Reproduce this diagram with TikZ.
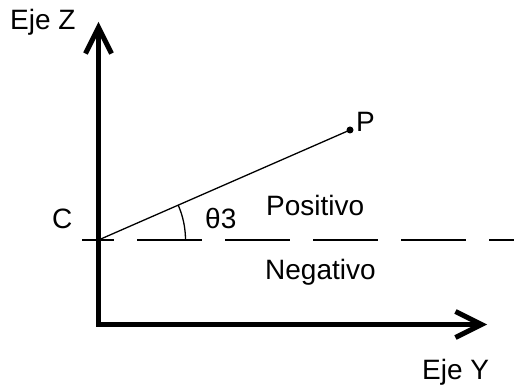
\documentclass[tikz,border=0pt]{standalone}
\usepackage{fontspec}
\setmainfont{Liberation Sans}
\usetikzlibrary{arrows.meta}
\begin{document}
\begin{tikzpicture}[x=1pt,y=-1pt,
  lbl/.style={inner sep=0pt,anchor=base west,font=\fontsize{28}{32}\selectfont},
  axis/.style={line width=5pt,line join=miter,-{Straight Barb[length=26pt,width=26pt,line width=5pt]}},
  thin/.style={line width=1.3pt}]
\useasboundingbox[fill=white] (0,0) rectangle (514,387);
\coordinate (C) at (98.5,240);
\coordinate (corner) at (98.5,324.5);
\coordinate (ztip) at (98.5,22);
\coordinate (ytip) at (487,324.5);
\coordinate (P) at (350,130);
\coordinate (dstart) at (82,240);
\coordinate (dend) at (514,240);
\draw[axis] (corner) -- (ztip);
\draw[axis] (98.5-2.5,324.5) -- (ytip);
\draw[thin,dash pattern=on 65pt off 23pt,dash phase=33pt] (dstart) -- (dend);
\draw[thin] (C) -- (P);
\fill (P) circle (3.5pt);
\draw[thin] ([xshift=87pt]C) arc[start angle=0,end angle=23.6,radius=87pt];
\node[lbl] (lz) at (10,30) {Eje Z};
\node[lbl] (ly) at (422,379) {Eje Y};
\node[lbl] (lc) at (52,229) {C};
\node[lbl] (lt) at (205,229) {θ3};
\node[lbl] (lp) at (356,132) {P};
\node[lbl] (lpos) at (266,216) {Positivo};
\node[lbl] (lneg) at (265,280) {Negativo};
\end{tikzpicture}
\end{document}
